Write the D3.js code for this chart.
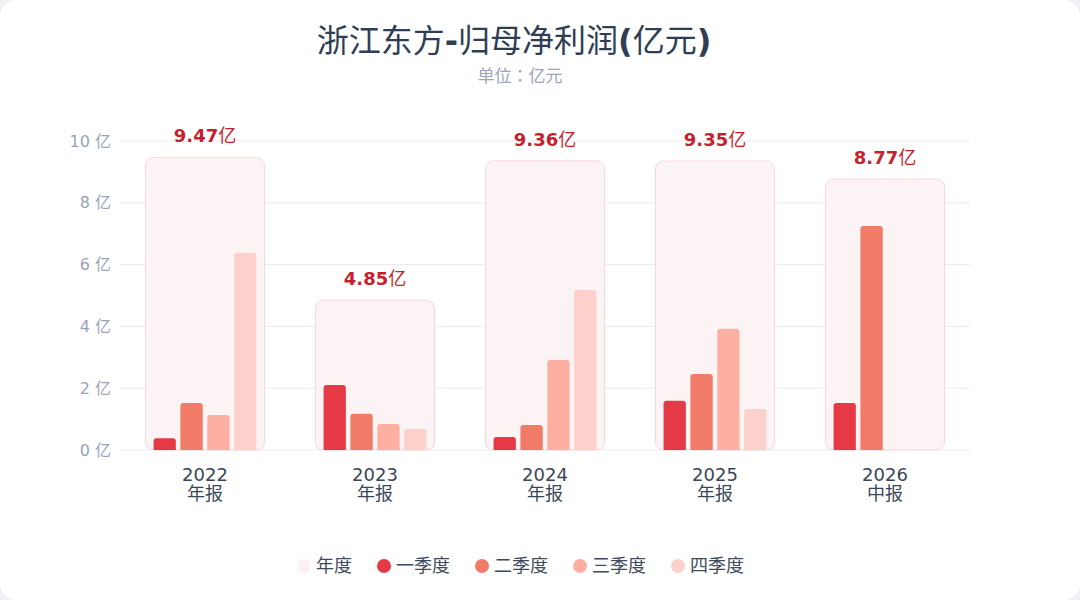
<!DOCTYPE html>
<html lang="zh">
<head>
    <meta charset="UTF-8">
    <title>浙江东方-归母净利润</title>
    <script src="https://cdnjs.cloudflare.com/ajax/libs/d3/7.8.5/d3.min.js"></script>
    <style>
        html, body { margin: 0; padding: 0; background: #eef0f4; }
        svg { display: block; font-family: "DejaVu Sans", "Noto Sans CJK JP", sans-serif; }
        .grid line { stroke: #ebe9ef; stroke-width: 1px; }
        .ylab { font-size: 16px; fill: #98a4b8; }
        .xlab { font-size: 18px; fill: #3a4658; }
        .legend text { font-size: 18px; fill: #3f4b5d; }
        .cjk { font-weight: normal; }
    </style>
</head>
<body>
    <svg width="1080" height="600"></svg>
    <script>
        // data (亿元)
        const years = ["2022", "2023", "2024", "2025", "2026"];
        const periods = ["年报", "年报", "年报", "年报", "中报"];
        const annual = [9.47, 4.85, 9.36, 9.35, 8.77];
        const q1 = [0.38, 2.10, 0.42, 1.59, 1.52];
        const q2 = [1.52, 1.17, 0.81, 2.46, 7.25];
        const q3 = [1.13, 0.84, 2.91, 3.92, null];
        const q4 = [6.38, 0.68, 5.18, 1.33, null];
        const quarterNames = ["一季度", "二季度", "三季度", "四季度"];
        const quarterColors = ["#e63946", "#f07b67", "#fdafa2", "#fdd1cb"];
        const yTicks = [0, 2, 4, 6, 8, 10];

        const quarters = [q1, q2, q3, q4];

        const svg = d3.select("svg");

        // card
        svg.append("rect")
            .attr("x", 0).attr("y", 0)
            .attr("width", 1080).attr("height", 600)
            .attr("rx", 16)
            .attr("fill", "#ffffff");

        // title: latin punctuation bold, CJK regular (as in the reference)
        const titleParts = [["浙江东方", 0], ["-", 1], ["归母净利润", 0], ["(", 1], ["亿元", 0], [")", 1]];
        const title = svg.append("text")
            .attr("x", 514).attr("y", 52)
            .attr("text-anchor", "middle")
            .style("font-size", "32px")
            .style("fill", "#2f3e55");
        titleParts.forEach(p => {
            title.append("tspan")
                .style("font-weight", p[1] ? "bold" : "normal")
                .text(p[0]);
        });

        // centred full-width colon, as the reference shows
        svg.append("text")
            .attr("x", 520).attr("y", 82)
            .attr("lang", "ja")
            .attr("text-anchor", "middle")
            .style("font-family", "'Noto Sans CJK JP', sans-serif")
            .style("font-size", "17px")
            .style("fill", "#9aa5b8")
            .text("单位：亿元");

        // scales
        const x = d3.scaleBand()
            .domain(years)
            .range([120, 970])
            .paddingInner(0.3)
            .paddingOuter(0.15);

        const xq = d3.scaleBand()
            .domain(quarterNames)
            .range([0, x.bandwidth()])
            .paddingInner(0.17)
            .paddingOuter(0.3);

        const y = d3.scaleLinear()
            .domain([0, 10])
            .range([450, 141]);

        // grid + y labels
        const grid = svg.append("g").attr("class", "grid");
        grid.selectAll("line")
            .data(yTicks)
            .enter().append("line")
            .attr("x1", 120).attr("x2", 970)
            .attr("y1", d => y(d)).attr("y2", d => y(d));

        svg.selectAll(".ylab")
            .data(yTicks)
            .enter().append("text")
            .attr("class", "ylab")
            .attr("x", 111)
            .attr("y", d => y(d))
            .attr("dy", "0.35em")
            .attr("text-anchor", "end")
            .text(d => d + " 亿");

        // annual background boxes
        const groups = svg.selectAll(".year")
            .data(years)
            .enter().append("g")
            .attr("class", "year")
            .attr("transform", d => `translate(${x(d)},0)`);

        groups.append("rect")
            .attr("x", 0)
            .attr("width", x.bandwidth())
            .attr("y", (d, i) => y(annual[i]))
            .attr("height", (d, i) => y(0) - y(annual[i]))
            .attr("rx", 8)
            .attr("fill", "#fbf3f4")
            .attr("stroke", "#f6d8dc")
            .attr("stroke-width", 1);

        const tot = groups.append("text")
            .attr("x", x.bandwidth() / 2)
            .attr("y", (d, i) => y(annual[i]) - 15)
            .attr("text-anchor", "middle")
            .style("font-size", "18px")
            .style("font-weight", "bold")
            .style("fill", "#c61f2e");
        tot.append("tspan").text((d, i) => annual[i].toFixed(2));
        tot.append("tspan").attr("class", "cjk").text("亿");

        // quarter bars with rounded tops
        function barPath(x0, w, yTop, yBase, r) {
            r = Math.min(r, (yBase - yTop), w / 2);
            return `M${x0},${yBase}V${yTop + r}Q${x0},${yTop} ${x0 + r},${yTop}` +
                `H${x0 + w - r}Q${x0 + w},${yTop} ${x0 + w},${yTop + r}V${yBase}Z`;
        }

        groups.each(function (yr, i) {
            const g = d3.select(this);
            quarters.forEach((q, k) => {
                const v = q[i];
                if (v == null) return;
                g.append("path")
                    .attr("d", barPath(xq(quarterNames[k]), xq.bandwidth(), y(v), y(0), 3))
                    .attr("fill", quarterColors[k]);
            });
        });

        // x labels
        const xl = svg.selectAll(".xlab")
            .data(years)
            .enter().append("text")
            .attr("class", "xlab")
            .attr("text-anchor", "middle")
            .attr("x", d => x(d) + x.bandwidth() / 2)
            .attr("y", 481);
        xl.append("tspan").text(d => d);
        xl.append("tspan")
            .attr("x", d => x(d) + x.bandwidth() / 2)
            .attr("dy", 19)
            .text((d, i) => periods[i]);

        // legend
        const legendItems = [{ name: "年度", color: "#fbf1f2" }]
            .concat(quarterNames.map((n, k) => ({ name: n, color: quarterColors[k] })));
        const legendX = [304, 384, 482, 580, 678];
        const legend = svg.append("g").attr("class", "legend");
        const li = legend.selectAll("g")
            .data(legendItems)
            .enter().append("g")
            .attr("transform", (d, i) => `translate(${legendX[i]},566)`);
        li.append("circle").attr("r", 7).attr("fill", d => d.color);
        li.append("text")
            .attr("x", 12)
            .attr("dy", "0.35em")
            .text(d => d.name);
    </script>
</body>
</html>
